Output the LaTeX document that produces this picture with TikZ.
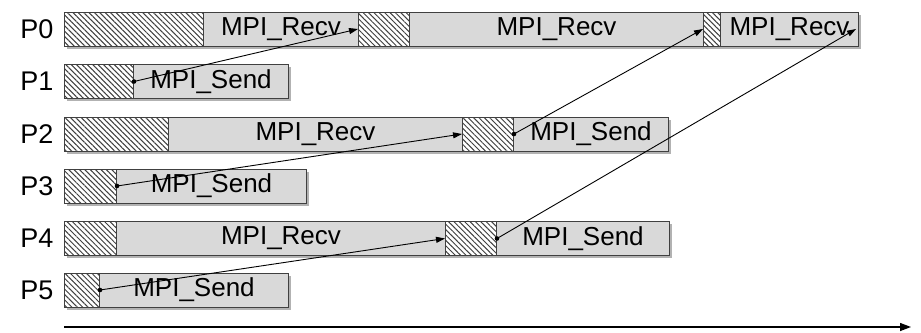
\documentclass[tikz,border=0pt]{standalone}
\usepackage{fontspec}
\setmainfont{Liberation Sans}
\usetikzlibrary{arrows.meta,patterns.meta,shadows}
\definecolor{barfill}{HTML}{D9D9D9}
\definecolor{barline}{HTML}{404040}
\tikzset{
  seg/.style={draw=barline, line width=1pt, minimum height=34pt, inner sep=0pt, anchor=west,
    drop shadow={shadow xshift=2.5pt, shadow yshift=-2.5pt, opacity=0.3, fill=black}},
  busy/.style={seg, preaction={fill=white},
    pattern={Lines[angle=-45, distance=3.8pt, line width=1pt]}, pattern color=barline},
  wait/.style={seg, fill=barfill, font=\fontsize{26}{30}\selectfont},
  proc/.style={font=\fontsize{27}{30}\selectfont, text=black},
  msg/.style={line width=0.9pt, -{Triangle[length=9pt, width=6pt]}},
  dotc/.style={fill=black}
}
\begin{document}
\begin{tikzpicture}[x=1pt, y=-1pt]
\useasboundingbox (0,0) rectangle (921,332);
% labels
\node[proc] (l0) at (37,29) {P0};
\node[proc] (l1) at (37,81.5) {P1};
\node[proc] (l2) at (37,134) {P2};
\node[proc] (l3) at (37,186) {P3};
\node[proc] (l4) at (37,238.5) {P4};
\node[proc] (l5) at (37,290) {P5};
% P0
\node[busy, minimum width=139pt] (p0a) at (64,29) {};
\node[wait, minimum width=155pt] (p0b) at (203,29) {MPI\_Recv};
\node[busy, minimum width=51pt] (p0c) at (358,29) {};
\node[wait, minimum width=294pt] (p0d) at (409,29) {MPI\_Recv};
\node[busy, minimum width=17pt] (p0e) at (703,29) {};
\node[wait, minimum width=138pt] (p0f) at (720,29) {MPI\_Recv};
% P1
\node[busy, minimum width=69pt] (p1a) at (64,81.5) {};
\node[wait, minimum width=155pt] (p1b) at (133,81.5) {MPI\_Send};
% P2
\node[busy, minimum width=104pt] (p2a) at (64,134) {};
\node[wait, minimum width=294pt] (p2b) at (168,134) {MPI\_Recv};
\node[busy, minimum width=51pt] (p2c) at (462,134) {};
\node[wait, minimum width=155pt] (p2d) at (513,134) {MPI\_Send};
% P3
\node[busy, minimum width=52pt] (p3a) at (64,186) {};
\node[wait, minimum width=190pt] (p3b) at (116,186) {MPI\_Send};
% P4
\node[busy, minimum width=52pt] (p4a) at (64,238.5) {};
\node[wait, minimum width=329pt] (p4b) at (116,238.5) {MPI\_Recv};
\node[busy, minimum width=51pt] (p4c) at (445,238.5) {};
\node[wait, minimum width=173pt] (p4d) at (496,238.5) {MPI\_Send};
% P5
\node[busy, minimum width=35pt] (p5a) at (64,290) {};
\node[wait, minimum width=189pt] (p5b) at (99,290) {MPI\_Send};
% messages
\draw[msg] (p1a.east) -- (p0c.west);
\draw[msg] (p3a.east) -- (p2c.west);
\draw[msg] (p2c.east) -- (p0e.west);
\draw[msg] (p5a.east) -- (p4c.west);
\draw[msg] (p4c.east) -- ([xshift=-3pt]p0f.east);
\foreach \n in {p1a,p3a,p2c,p5a,p4c} \fill[dotc] (\n.east) circle (2.3pt);
% time axis
\coordinate (t0) at (64,327);
\coordinate (t1) at (911,327);
\draw[line width=1.3pt, -{Triangle[length=11pt, width=8pt]}] (t0) -- (t1);
\end{tikzpicture}
\end{document}
